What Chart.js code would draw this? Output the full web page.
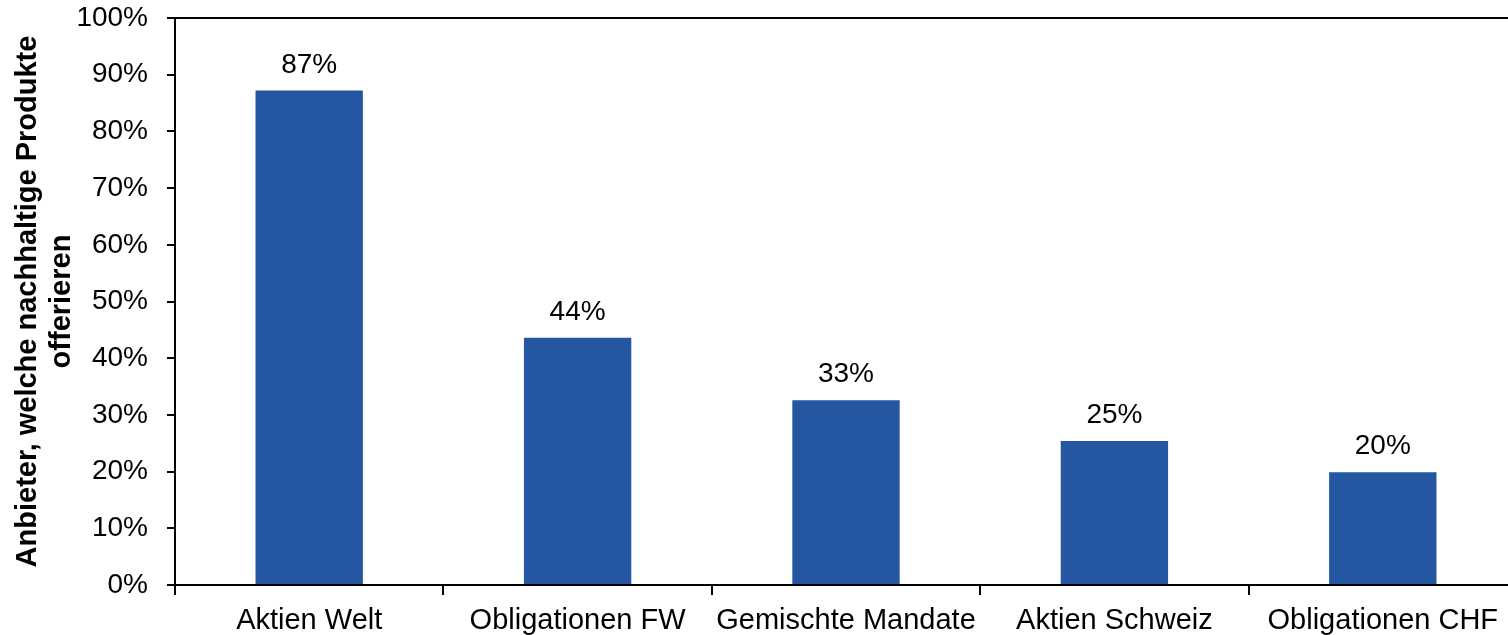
<!DOCTYPE html>
<html>
<head>
<meta charset="utf-8">
<script src="https://cdn.jsdelivr.net/npm/chart.js@4"></script>
<style>
  html, body { margin: 0; padding: 0; background: #fff; overflow: hidden; }
  #wrap { width: 1520px; height: 635px; }
</style>
</head>
<body>
<div id="wrap"><canvas id="chart" width="1520" height="635"></canvas></div>
<script>
'use strict';

// ─── Data ────────────────────────────────────────────────────────────────────

const categories = ['Aktien Welt', 'Obligationen FW', 'Gemischte Mandate', 'Aktien Schweiz', 'Obligationen CHF'];
const shares = [87.2, 43.6, 32.6, 25.4, 19.9];
const yTitle = ['Anbieter, welche nachhaltige Produkte', 'offerieren'];

const FONT = "'Liberation Sans', Arial, sans-serif";
const BAR_COLOR = '#2556a1';

// value labels above each bar
const valueLabels = {
  id: 'valueLabels',
  afterDatasetsDraw(chart) {
    const { ctx } = chart;
    const meta = chart.getDatasetMeta(0);
    ctx.save();
    ctx.font = '28px ' + FONT;
    ctx.fillStyle = '#000';
    ctx.textAlign = 'center';
    ctx.textBaseline = 'alphabetic';
    meta.data.forEach((bar, i) => {
      ctx.fillText(Math.round(shares[i]) + '%', bar.x, bar.y - 18);
    });
    ctx.restore();
  },
};

new Chart(document.getElementById('chart').getContext('2d'), {
  type: 'bar',
  data: {
    labels: categories,
    datasets: [{
      data: shares,
      backgroundColor: BAR_COLOR,
      borderWidth: 0,
      barPercentage: 0.4,
      categoryPercentage: 1,
    }],
  },
  options: {
    responsive: false,
    animation: false,
    layout: { padding: { left: 0, right: 3, top: 18, bottom: 0 } },
    plugins: { legend: { display: false }, tooltip: { enabled: false } },
    scales: {
      x: {
        grid: { offset: true, drawOnChartArea: false, tickLength: 10, color: '#000', lineWidth: 2 },
        border: { color: '#000', width: 2 },
        ticks: { color: '#000', font: { family: FONT, size: 29 }, padding: 9, maxRotation: 0, autoSkip: false },
        afterFit(scale) { scale.height = 50; },
      },
      y: {
        min: 0, max: 100,
        grid: {
          color: ctx => ctx.tick && ctx.tick.value === 100 ? '#000' : 'rgba(0,0,0,0)',
          tickColor: '#000',
          lineWidth: 2,
          tickLength: 8,
        },
        border: { color: '#000', width: 2 },
        ticks: {
          stepSize: 10,
          color: '#000',
          font: { family: FONT, size: 28 },
          padding: 19,
          callback: v => v + '%',
        },
        title: {
          display: true,
          text: yTitle,
          color: '#000',
          font: { family: FONT, size: 29, weight: 'bold', lineHeight: 1.17 },
          padding: { top: 11, bottom: 0 },
        },
        afterFit(scale) {
          scale.width = 175;
          scale.paddingTop = 0;
          scale.paddingBottom = 0;
        },
      },
    },
  },
  plugins: [valueLabels],
});
</script>
</body>
</html>
